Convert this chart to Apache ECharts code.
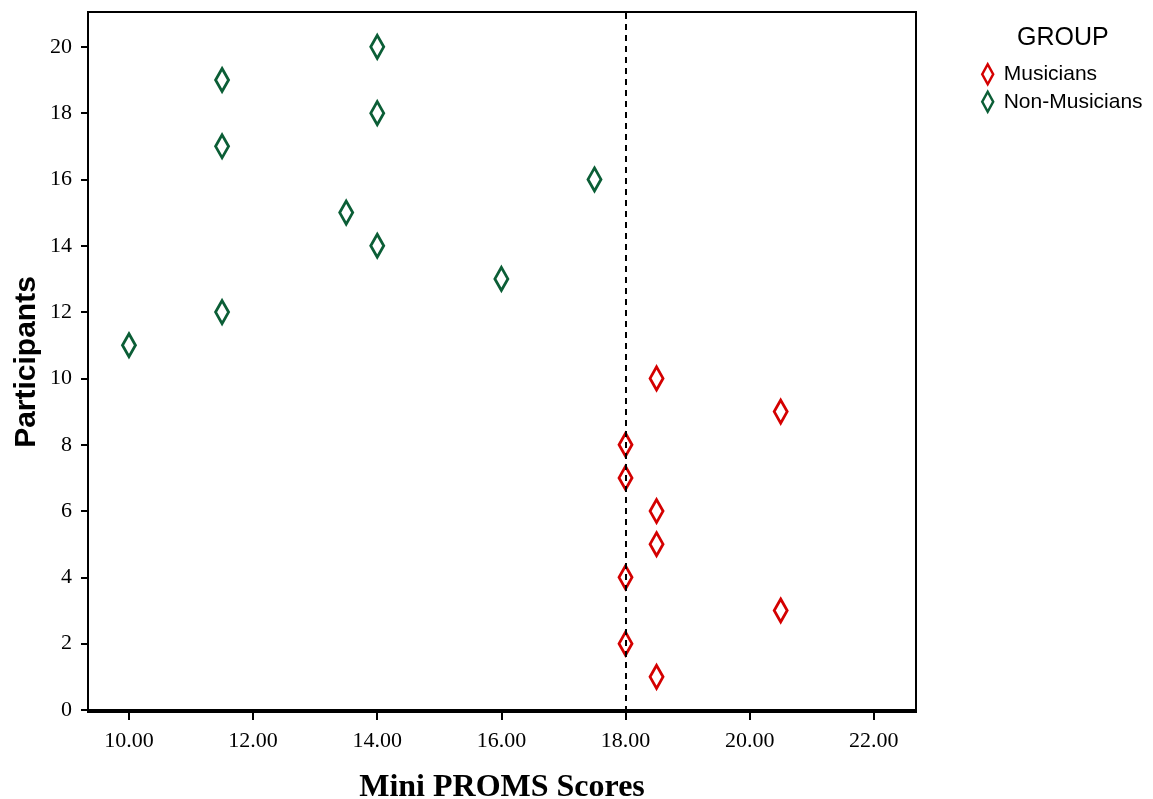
<!DOCTYPE html>
<html><head><meta charset="utf-8">
<script src="https://cdn.jsdelivr.net/npm/echarts@6/dist/echarts.min.js"></script>
<style>html,body{margin:0;padding:0;background:#fff}#c{width:1153px;height:799px}</style>
</head><body><div id="c"></div>
<script>
const musiciansScores = [18.5, 18, 20.5, 18, 18.5, 18.5, 18, 18, 20.5, 18.5];
const musiciansIds = [1, 2, 3, 4, 5, 6, 7, 8, 9, 10];
const nonMusiciansScores = [10, 11.5, 16, 14, 13.5, 17.5, 11.5, 14, 11.5, 14];
const nonMusiciansIds = [11, 12, 13, 14, 15, 16, 17, 18, 19, 20];
const xTicks = [10, 12, 14, 16, 18, 20, 22];
const yTicks = [0, 2, 4, 6, 8, 10, 12, 14, 16, 18, 20];
const cutoff = 18;

const diamond = 'path://M6,0 L12,11 L6,22 L0,11 Z';
const chart = echarts.init(document.getElementById('c'));
chart.setOption({
  animation: false,
  backgroundColor: '#fff',
  title: { text: 'GROUP', left: 1012, top: 21, textStyle: { fontFamily: 'Liberation Sans', fontSize: 25, fontWeight: 'normal', color: '#000' } },
  legend: {
    orient: 'vertical', left: 976, top: 58, itemWidth: 12, itemHeight: 20, itemGap: 5, itemStyle: { opacity: 1, borderWidth: 2.5 },
    textStyle: { fontFamily: 'Liberation Sans', fontSize: 21, color: '#000', padding: [0, 0, 0, 5] },
    data: [{ name: 'Musicians', icon: diamond }, { name: 'Non-Musicians', icon: diamond }]
  },
  grid: { left: 88, right: 237, top: 12, bottom: 87, outerBoundsMode: 'none', containLabel: false, show: true, borderColor: '#000', borderWidth: 2, backgroundColor: 'transparent' },
  xAxis: {
    type: 'value', min: 9.34, max: 22.68,
    name: 'Mini PROMS Scores', nameLocation: 'middle', nameGap: 60, nameMoveOverlap: false,
    nameTextStyle: { fontFamily: 'Liberation Serif', fontWeight: 'bold', fontSize: 32, color: '#000' },
    axisLine: { show: true, lineStyle: { color: '#000', width: 2 } },
    axisTick: { show: true, customValues: xTicks, length: 10, lineStyle: { color: '#000', width: 2 } },
    axisLabel: { customValues: xTicks, formatter: v => v.toFixed(2), fontFamily: 'Liberation Serif', fontSize: 22, color: '#000', margin: 18 },
    splitLine: { show: false }
  },
  yAxis: {
    type: 'value', min: -0.06, max: 21.05,
    name: 'Participants', nameLocation: 'middle', nameGap: 46, nameRotate: 90, nameMoveOverlap: false,
    nameTextStyle: { fontFamily: 'Liberation Sans', fontWeight: 'bold', fontSize: 30, color: '#000' },
    axisLine: { show: true, lineStyle: { color: '#000', width: 2 } },
    axisTick: { show: true, customValues: yTicks, length: 7, lineStyle: { color: '#000', width: 2 } },
    axisLabel: { customValues: yTicks, fontFamily: 'Liberation Serif', fontSize: 22, color: '#000', margin: 16 },
    splitLine: { show: false }
  },
  series: [
    {
      name: 'Musicians', type: 'scatter', symbol: diamond, symbolSize: [13, 23],
      itemStyle: { color: '#fff', borderColor: '#d40000', borderWidth: 3, opacity: 1 },
      data: musiciansScores.map((s, i) => [s, musiciansIds[i]]),
      z: 3,
      markLine: {
        silent: true, symbol: 'none', label: { show: false },
        lineStyle: { color: '#000', type: [6, 5], width: 2 },
        data: [{ xAxis: cutoff }]
      }
    },
    {
      name: 'Non-Musicians', type: 'scatter', symbol: diamond, symbolSize: [13, 23],
      itemStyle: { color: '#fff', borderColor: '#0b5e36', borderWidth: 3, opacity: 1 },
      data: nonMusiciansScores.map((s, i) => [s, nonMusiciansIds[i]]),
      z: 3
    }
  ]
});
</script></body></html>
